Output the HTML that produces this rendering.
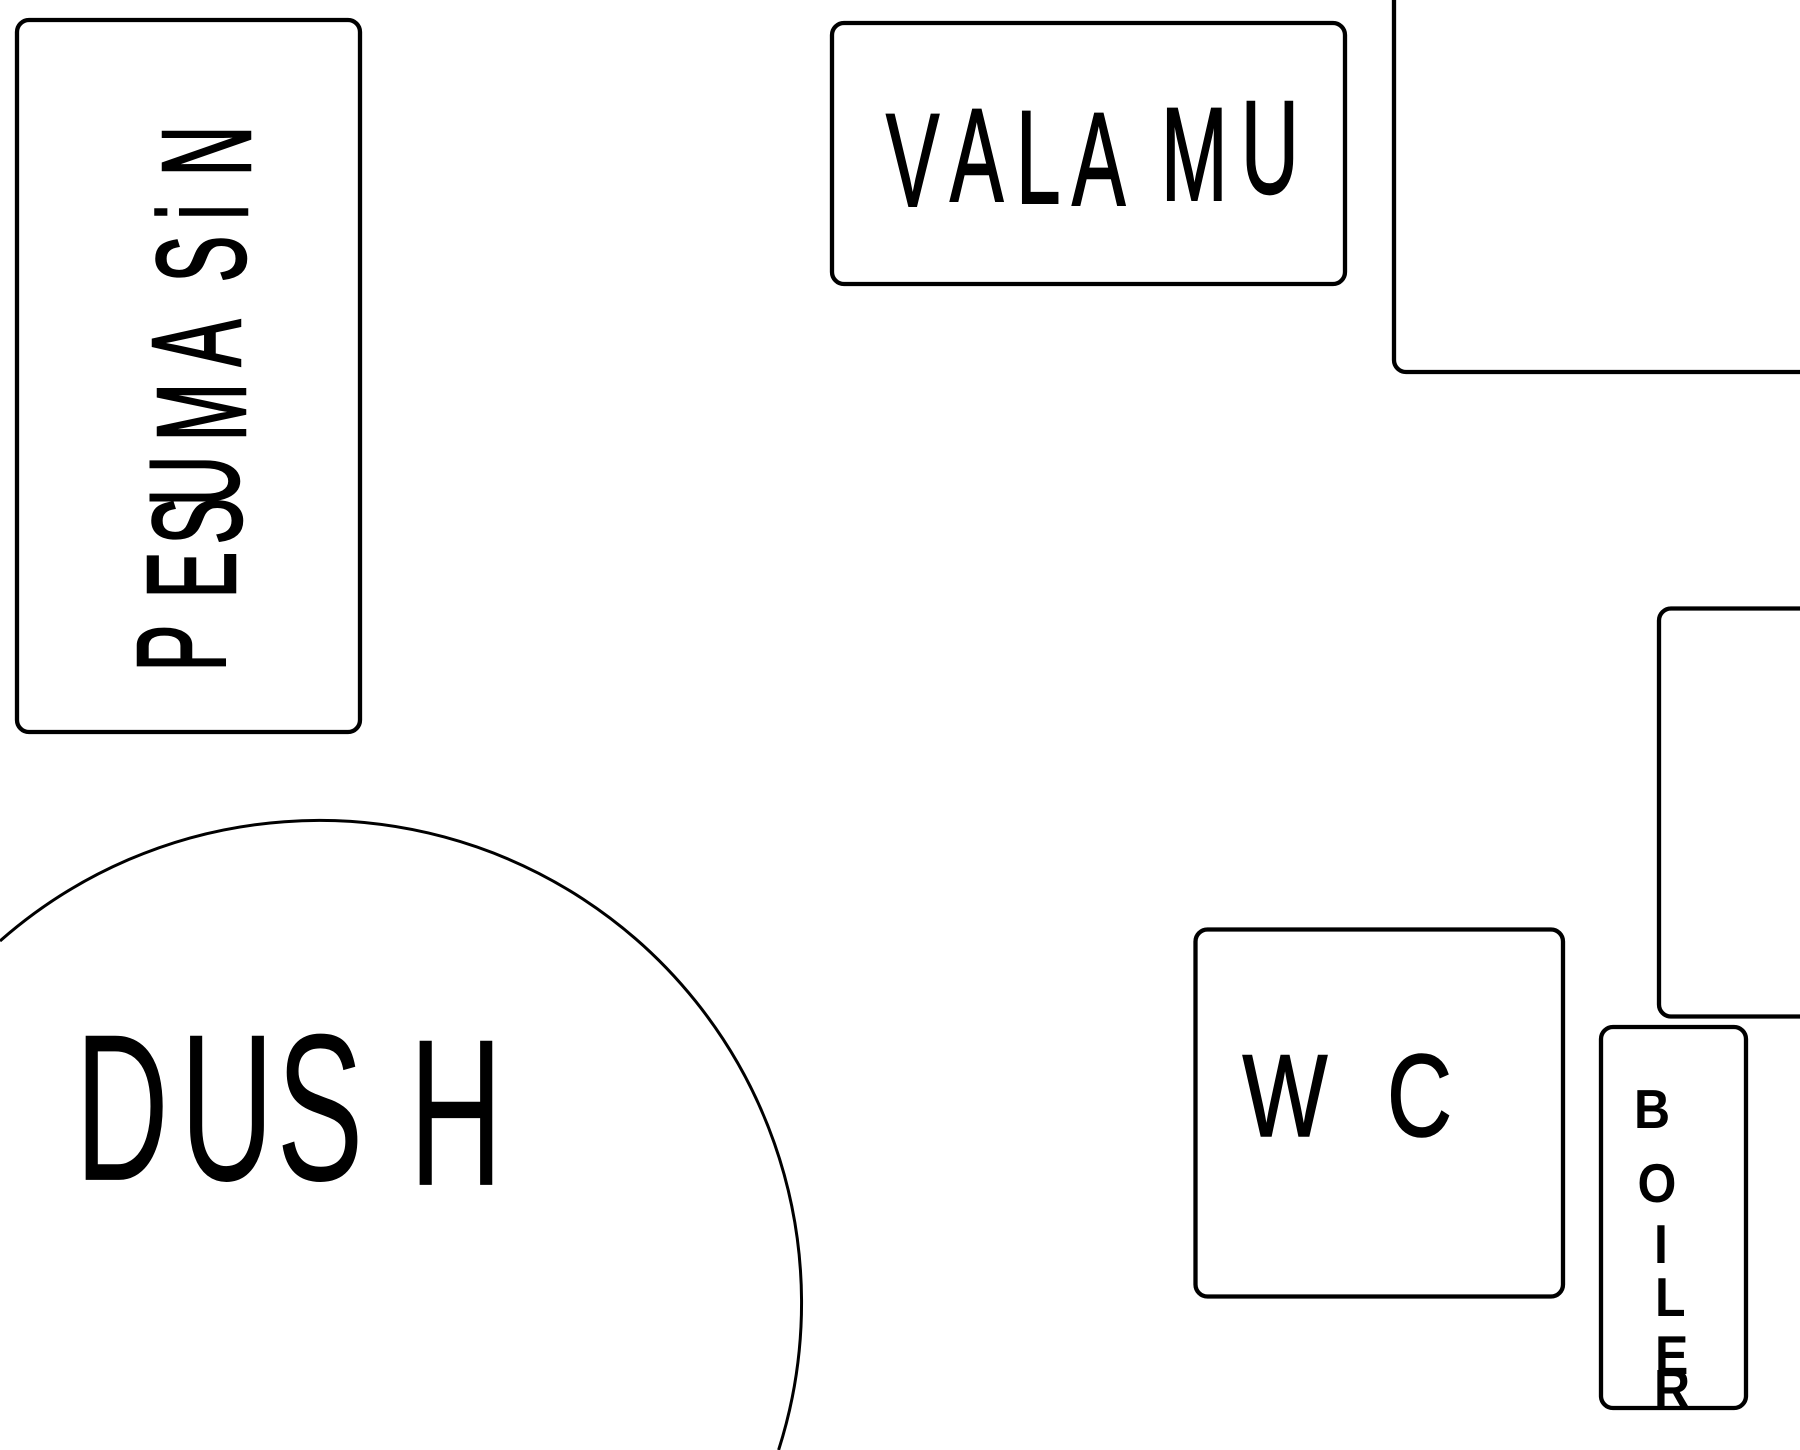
<!DOCTYPE html>
<html>
<head>
<meta charset="utf-8">
<style>
  html, body { margin: 0; padding: 0; background: #ffffff; width: 1800px; height: 1450px; overflow: hidden; }
  svg { display: block; overflow: hidden; }
  text { font-family: "Liberation Sans", "DejaVu Sans", sans-serif; fill: #000; }
</style>
</head>
<body>
<svg width="1800" height="1450" viewBox="0 0 1800 1450" xmlns="http://www.w3.org/2000/svg">
  <rect x="0" y="0" width="1800" height="1450" fill="#ffffff"/>

  <!-- boxes -->
  <g fill="none" stroke="#000" stroke-width="4.3">
    <rect x="17" y="20" width="343" height="712" rx="12" ry="12"/>
    <rect x="832" y="23" width="513" height="261" rx="12" ry="12"/>
    <path d="M1394,0 L1394,360 A12,12 0 0 0 1406,372 L1800,372"/>
    <path d="M1800,608.5 L1671,608.5 A12,12 0 0 0 1659,620.5 L1659,1004.5 A12,12 0 0 0 1671,1016.5 L1800,1016.5"/>
    <rect x="1195.5" y="929.5" width="367.5" height="367" rx="12" ry="12"/>
    <rect x="1601" y="1027" width="145" height="381" rx="12" ry="12"/>
  </g>

  <!-- DUSH circle (visible arc only) -->
  <path d="M0,941 A482.5,482.5 0 0 1 778.6,1450" fill="none" stroke="#000" stroke-width="3"/>

  <!-- PESUMASIN (rotated, reads bottom to top) -->
  <text font-size="70" transform="rotate(-90) scale(1,1.8)" stroke="#000" stroke-width="1.4"
        x="-671.4 -598.4 -544.4 -506.3 -441.2 -366.4 -282.4 -219.8 -176.3"
        y="125 130.6 133.9 132.2 136.1 133.3 136.1 137.2 138.9">PESUMASiN</text>

  <!-- VALAMU -->
  <text font-size="80" transform="scale(1,1.66)" stroke="#000" stroke-width="1.2"
        x="886 950 1016 1072 1161 1241"
        y="124.1 121.1 122.3 123.5 120.5 116.3">VALAMU</text>

  <!-- DUSH -->
  <text font-size="100" transform="scale(1.3,2.095)"
        x="57.7 138.5 212.8 314.6"
        y="563.2 563.2 563.2 565.6">DUSH</text>

  <!-- WC -->
  <text font-size="90" transform="scale(1,1.3)" stroke="#000" stroke-width="1.2"
        x="1242.5 1387"
        y="873.8 873.8">WC</text>

  <!-- BOILER (stacked) -->
  <text font-size="50" font-weight="bold" transform="scale(1,1.1)"
        x="1634 1637.5 1654 1655 1655 1654"
        y="1025.5 1092.7 1148.2 1196.4 1249.1 1280">BOILER</text>
</svg>
</body>
</html>
